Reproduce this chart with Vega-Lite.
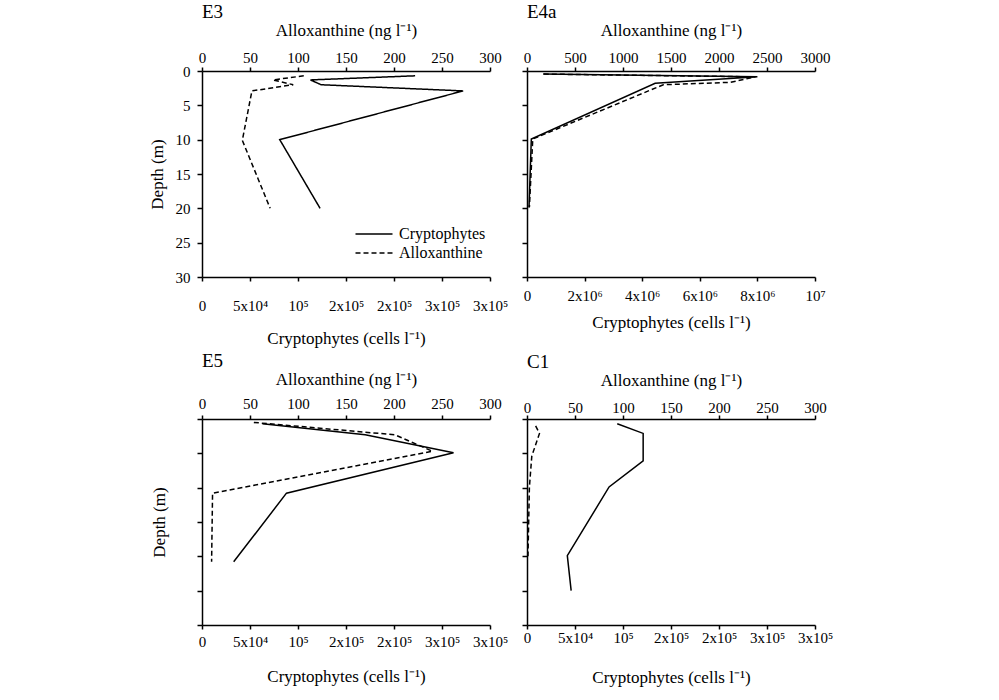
{
  "$schema": "https://vega.github.io/schema/vega-lite/v6.json",
  "padding": {"left": 148, "top": 3, "right": 5, "bottom": 5},
  "config": {
    "font": "Liberation Serif",
    "view": {"stroke": null},
    "axis": {"domainColor": "black", "domainWidth": 1.5, "tickColor": "black", "tickWidth": 1.5, "tickSize": 4, "labelColor": "black", "labelFontSize": 15, "labelFont": "Liberation Serif", "titleFont": "Liberation Serif", "titleFontSize": 17, "titleFontWeight": "normal", "titleColor": "black", "grid": false, "labelFlush": false, "labelOverlap": false, "labelBound": false},
    "title": {"font": "Liberation Serif", "fontSize": 19, "fontWeight": "normal", "color": "black"}
  },
  "data": {"values": [
    {"station": "E3", "series": "Cryptophytes", "depth": 0.7, "value": 222000},
    {"station": "E3", "series": "Cryptophytes", "depth": 1.3, "value": 113000},
    {"station": "E3", "series": "Cryptophytes", "depth": 2.0, "value": 124000},
    {"station": "E3", "series": "Cryptophytes", "depth": 2.9, "value": 272000},
    {"station": "E3", "series": "Cryptophytes", "depth": 10.0, "value": 81000},
    {"station": "E3", "series": "Cryptophytes", "depth": 20.0, "value": 123000},
    {"station": "E3", "series": "Alloxanthine", "depth": 0.7, "value": 106},
    {"station": "E3", "series": "Alloxanthine", "depth": 1.3, "value": 74},
    {"station": "E3", "series": "Alloxanthine", "depth": 2.0, "value": 95},
    {"station": "E3", "series": "Alloxanthine", "depth": 2.9, "value": 52},
    {"station": "E3", "series": "Alloxanthine", "depth": 10.1, "value": 42},
    {"station": "E3", "series": "Alloxanthine", "depth": 20.0, "value": 71},
    {"station": "E4a", "series": "Cryptophytes", "depth": 0.45, "value": 560000},
    {"station": "E4a", "series": "Cryptophytes", "depth": 0.85, "value": 8000000},
    {"station": "E4a", "series": "Cryptophytes", "depth": 1.8, "value": 4450000},
    {"station": "E4a", "series": "Cryptophytes", "depth": 9.9, "value": 150000},
    {"station": "E4a", "series": "Cryptophytes", "depth": 19.9, "value": 70000},
    {"station": "E4a", "series": "Alloxanthine", "depth": 0.45, "value": 175},
    {"station": "E4a", "series": "Alloxanthine", "depth": 0.85, "value": 2380},
    {"station": "E4a", "series": "Alloxanthine", "depth": 1.65, "value": 2120},
    {"station": "E4a", "series": "Alloxanthine", "depth": 2.0, "value": 1420},
    {"station": "E4a", "series": "Alloxanthine", "depth": 9.9, "value": 60},
    {"station": "E4a", "series": "Alloxanthine", "depth": 19.8, "value": 25},
    {"station": "E5", "series": "Cryptophytes", "depth": 0.7, "value": 63000},
    {"station": "E5", "series": "Cryptophytes", "depth": 2.3, "value": 170000},
    {"station": "E5", "series": "Cryptophytes", "depth": 4.9, "value": 262000},
    {"station": "E5", "series": "Cryptophytes", "depth": 10.8, "value": 88000},
    {"station": "E5", "series": "Cryptophytes", "depth": 20.8, "value": 33000},
    {"station": "E5", "series": "Alloxanthine", "depth": 0.5, "value": 54},
    {"station": "E5", "series": "Alloxanthine", "depth": 2.3, "value": 201},
    {"station": "E5", "series": "Alloxanthine", "depth": 4.7, "value": 240},
    {"station": "E5", "series": "Alloxanthine", "depth": 10.8, "value": 11},
    {"station": "E5", "series": "Alloxanthine", "depth": 20.8, "value": 10},
    {"station": "C1", "series": "Cryptophytes", "depth": 0.7, "value": 94000},
    {"station": "C1", "series": "Cryptophytes", "depth": 2.1, "value": 121000},
    {"station": "C1", "series": "Cryptophytes", "depth": 6.1, "value": 121000},
    {"station": "C1", "series": "Cryptophytes", "depth": 9.9, "value": 85500},
    {"station": "C1", "series": "Cryptophytes", "depth": 19.9, "value": 42000},
    {"station": "C1", "series": "Cryptophytes", "depth": 25.0, "value": 46000},
    {"station": "C1", "series": "Alloxanthine", "depth": 1.0, "value": 9},
    {"station": "C1", "series": "Alloxanthine", "depth": 2.1, "value": 13},
    {"station": "C1", "series": "Alloxanthine", "depth": 5.4, "value": 5},
    {"station": "C1", "series": "Alloxanthine", "depth": 9.9, "value": 2.5},
    {"station": "C1", "series": "Alloxanthine", "depth": 20.0, "value": 1}
  ]},
  "columns": 2,
  "spacing": {"row": 142, "column": 37},
  "bounds": "flush",
  "resolve": {"scale": {"strokeDash": "independent"}, "legend": {"strokeDash": "independent"}},
  "concat": [
    {
      "width": 288, "height": 206,
      "title": {"text": "E3", "anchor": "start", "frame": "group", "offset": -1},
      "layer": [
        {
          "transform": [{"filter": "datum.station == 'E3' && datum.series == 'Cryptophytes'"}],
          "mark": {"type": "line", "color": "black", "strokeWidth": 1.5},
          "encoding": {
            "x": {"field": "value", "type": "quantitative", "scale": {"domain": [0, 300000], "nice": false}, "axis": {"orient": "bottom", "title": "Cryptophytes (cells l⁻¹)", "values": [0, 50000, 100000, 150000, 200000, 250000, 300000], "labelExpr": "datum.value == 0 ? '0' : datum.value == 50000 ? '5x10⁴' : datum.value == 100000 ? '10⁵' : datum.value <= 200000 ? '2x10⁵' : '3x10⁵'", "labelPadding": 17, "titlePadding": 17}},
            "y": {"field": "depth", "type": "quantitative", "scale": {"domain": [0, 30], "reverse": true, "nice": false}, "axis": {"title": "Depth (m)", "values": [0, 5, 10, 15, 20, 25, 30], "tickSize": 5, "labelPadding": 7, "titlePadding": 9}},
            "order": {"field": "depth"},
            "strokeDash": {"field": "series", "type": "nominal", "scale": {"domain": ["Cryptophytes", "Alloxanthine"], "range": [[1, 0], [5, 3]]}, "legend": {"orient": "none", "legendX": 161, "legendY": 152, "title": null, "symbolType": "M-1.85,0H1.85", "symbolSize": 400, "symbolStrokeWidth": 1.5, "symbolStrokeColor": "black", "symbolFillColor": "transparent", "labelFont": "Liberation Serif", "labelFontSize": 16, "labelColor": "black", "labelOffset": 14, "rowPadding": 0}}
          }
        },
        {
          "transform": [{"filter": "datum.station == 'E3' && datum.series == 'Alloxanthine'"}],
          "mark": {"type": "line", "color": "black", "strokeWidth": 1.5},
          "encoding": {
            "x": {"field": "value", "type": "quantitative", "scale": {"domain": [0, 300], "nice": false}, "axis": {"orient": "top", "title": "Alloxanthine (ng l⁻¹)", "values": [0, 50, 100, 150, 200, 250, 300], "labelPadding": 2, "titlePadding": 11}},
            "y": {"field": "depth", "type": "quantitative", "scale": {"domain": [0, 30], "reverse": true, "nice": false}, "axis": {"title": "Depth (m)", "values": [0, 5, 10, 15, 20, 25, 30], "tickSize": 5, "labelPadding": 7, "titlePadding": 9}},
            "order": {"field": "depth"},
            "strokeDash": {"field": "series", "type": "nominal", "scale": {"domain": ["Cryptophytes", "Alloxanthine"], "range": [[1, 0], [5, 3]]}, "legend": {"orient": "none", "legendX": 161, "legendY": 152, "title": null, "symbolType": "M-1.85,0H1.85", "symbolSize": 400, "symbolStrokeWidth": 1.5, "symbolStrokeColor": "black", "symbolFillColor": "transparent", "labelFont": "Liberation Serif", "labelFontSize": 16, "labelColor": "black", "labelOffset": 14, "rowPadding": 0}}
          }
        }
      ],
      "resolve": {"scale": {"x": "independent"}}
    },
    {
      "width": 288, "height": 206,
      "title": {"text": "E4a", "anchor": "start", "frame": "group", "offset": -1},
      "layer": [
        {
          "transform": [{"filter": "datum.station == 'E4a' && datum.series == 'Cryptophytes'"}],
          "mark": {"type": "line", "color": "black", "strokeWidth": 1.5},
          "encoding": {
            "x": {"field": "value", "type": "quantitative", "scale": {"domain": [0, 10000000], "nice": false}, "axis": {"orient": "bottom", "title": "Cryptophytes (cells l⁻¹)", "values": [0, 2000000, 4000000, 6000000, 8000000, 10000000], "labelExpr": "datum.value == 0 ? '0' : datum.value == 10000000 ? '10⁷' : format(datum.value / 1000000, 'd') + 'x10⁶'", "labelPadding": 7, "titlePadding": 11}},
            "y": {"field": "depth", "type": "quantitative", "scale": {"domain": [0, 30], "reverse": true, "nice": false}, "axis": {"title": null, "labels": false, "values": [0, 5, 10, 15, 20, 25, 30], "tickSize": 5}},
            "order": {"field": "depth"}
          }
        },
        {
          "transform": [{"filter": "datum.station == 'E4a' && datum.series == 'Alloxanthine'"}],
          "mark": {"type": "line", "color": "black", "strokeWidth": 1.5, "strokeDash": [5, 3]},
          "encoding": {
            "x": {"field": "value", "type": "quantitative", "scale": {"domain": [0, 3000], "nice": false}, "axis": {"orient": "top", "title": "Alloxanthine (ng l⁻¹)", "format": "d", "values": [0, 500, 1000, 1500, 2000, 2500, 3000], "labelPadding": 2, "titlePadding": 11}},
            "y": {"field": "depth", "type": "quantitative", "scale": {"domain": [0, 30], "reverse": true, "nice": false}, "axis": {"title": null, "labels": false, "values": [0, 5, 10, 15, 20, 25, 30], "tickSize": 5}},
            "order": {"field": "depth"}
          }
        }
      ],
      "resolve": {"scale": {"x": "independent"}}
    },
    {
      "width": 288, "height": 206,
      "title": {"text": "E5", "anchor": "start", "frame": "group", "offset": -1},
      "layer": [
        {
          "transform": [{"filter": "datum.station == 'E5' && datum.series == 'Cryptophytes'"}],
          "mark": {"type": "line", "color": "black", "strokeWidth": 1.5},
          "encoding": {
            "x": {"field": "value", "type": "quantitative", "scale": {"domain": [0, 300000], "nice": false}, "axis": {"orient": "bottom", "title": "Cryptophytes (cells l⁻¹)", "values": [0, 50000, 100000, 150000, 200000, 250000, 300000], "labelExpr": "datum.value == 0 ? '0' : datum.value == 50000 ? '5x10⁴' : datum.value == 100000 ? '10⁵' : datum.value <= 200000 ? '2x10⁵' : '3x10⁵'", "labelPadding": 5, "titlePadding": 19}},
            "y": {"field": "depth", "type": "quantitative", "scale": {"domain": [0, 30], "reverse": true, "nice": false}, "axis": {"title": "Depth (m)", "labels": false, "values": [0, 5, 10, 15, 20, 25, 30], "tickSize": 5, "titlePadding": 28}},
            "order": {"field": "depth"}
          }
        },
        {
          "transform": [{"filter": "datum.station == 'E5' && datum.series == 'Alloxanthine'"}],
          "mark": {"type": "line", "color": "black", "strokeWidth": 1.5, "strokeDash": [5, 3]},
          "encoding": {
            "x": {"field": "value", "type": "quantitative", "scale": {"domain": [0, 300], "nice": false}, "axis": {"orient": "top", "title": "Alloxanthine (ng l⁻¹)", "values": [0, 50, 100, 150, 200, 250, 300], "labelPadding": 4, "titlePadding": 8}},
            "y": {"field": "depth", "type": "quantitative", "scale": {"domain": [0, 30], "reverse": true, "nice": false}, "axis": {"title": "Depth (m)", "labels": false, "values": [0, 5, 10, 15, 20, 25, 30], "tickSize": 5, "titlePadding": 28}},
            "order": {"field": "depth"}
          }
        }
      ],
      "resolve": {"scale": {"x": "independent"}}
    },
    {
      "width": 288, "height": 206,
      "title": {"text": "C1", "anchor": "start", "frame": "group", "offset": -1},
      "layer": [
        {
          "transform": [{"filter": "datum.station == 'C1' && datum.series == 'Cryptophytes'"}],
          "mark": {"type": "line", "color": "black", "strokeWidth": 1.5},
          "encoding": {
            "x": {"field": "value", "type": "quantitative", "scale": {"domain": [0, 300000], "nice": false}, "axis": {"orient": "bottom", "title": "Cryptophytes (cells l⁻¹)", "values": [0, 50000, 100000, 150000, 200000, 250000, 300000], "labelExpr": "datum.value == 0 ? '0' : datum.value == 50000 ? '5x10⁴' : datum.value == 100000 ? '10⁵' : datum.value <= 200000 ? '2x10⁵' : '3x10⁵'", "labelPadding": 1, "titlePadding": 24}},
            "y": {"field": "depth", "type": "quantitative", "scale": {"domain": [0, 30], "reverse": true, "nice": false}, "axis": {"title": null, "labels": false, "values": [0, 5, 10, 15, 20, 25, 30], "tickSize": 5}},
            "order": {"field": "depth"}
          }
        },
        {
          "transform": [{"filter": "datum.station == 'C1' && datum.series == 'Alloxanthine'"}],
          "mark": {"type": "line", "color": "black", "strokeWidth": 1.5, "strokeDash": [5, 3]},
          "encoding": {
            "x": {"field": "value", "type": "quantitative", "scale": {"domain": [0, 300], "nice": false}, "axis": {"orient": "top", "title": "Alloxanthine (ng l⁻¹)", "values": [0, 50, 100, 150, 200, 250, 300], "labelPadding": 0, "titlePadding": 11}},
            "y": {"field": "depth", "type": "quantitative", "scale": {"domain": [0, 30], "reverse": true, "nice": false}, "axis": {"title": null, "labels": false, "values": [0, 5, 10, 15, 20, 25, 30], "tickSize": 5}},
            "order": {"field": "depth"}
          }
        }
      ],
      "resolve": {"scale": {"x": "independent"}}
    }
  ]
}
